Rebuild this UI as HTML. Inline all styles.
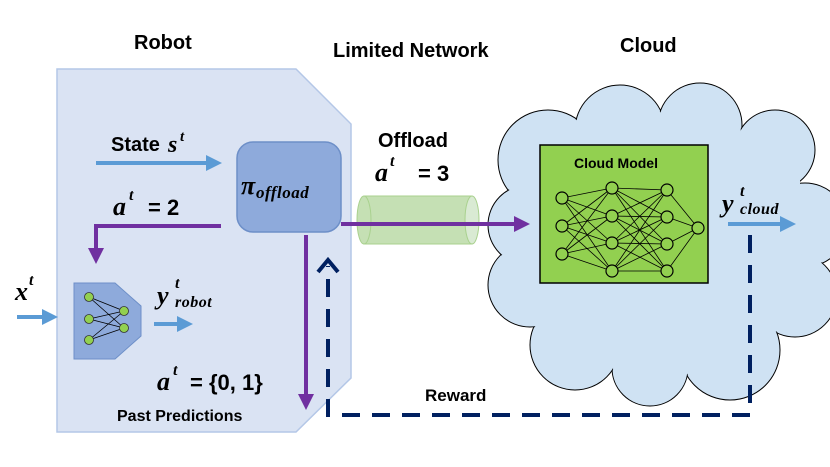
<!DOCTYPE html>
<html><head><meta charset="utf-8"><style>
body{margin:0;background:#fff;}
svg{display:block;font-family:"Liberation Sans",sans-serif;}
.b{font-weight:bold;}
.m{font-family:"Liberation Serif",serif;font-weight:bold;font-style:italic;}
</style></head><body>
<svg width="830" height="467" viewBox="0 0 830 467">
<defs>
<marker id="bl" markerWidth="4" markerHeight="4" refX="2" refY="2" orient="auto" markerUnits="strokeWidth"><path d="M0,0 L4,2 L0,4z" fill="#5b9bd5"/></marker>
<marker id="pu" markerWidth="4" markerHeight="4" refX="2" refY="2" orient="auto" markerUnits="strokeWidth"><path d="M0,0 L4,2 L0,4z" fill="#7030a0"/></marker>
</defs>
<polygon points="57,69 296,69 351,124 351,378 296,432 57,432" fill="#dae3f3" stroke="#b4c7e7" stroke-width="1.5"/>
<text x="134" y="49" class="b" font-size="20">Robot</text>
<text x="333" y="57" class="b" font-size="20">Limited Network</text>
<text x="620" y="52" class="b" font-size="20">Cloud</text>
<g fill="#cfe2f3" stroke="#000" stroke-width="1">
<circle cx="548" cy="160" r="50"/><circle cx="620" cy="130" r="45"/><circle cx="700" cy="125" r="42"/><circle cx="775" cy="150" r="40"/>
<circle cx="805" cy="225" r="42"/><circle cx="795" cy="295" r="42"/><circle cx="730" cy="350" r="50"/><circle cx="650" cy="368" r="38"/>
<circle cx="575" cy="345" r="45"/><circle cx="530" cy="285" r="42"/><circle cx="528" cy="225" r="40"/>
</g>
<g fill="#cfe2f3">
<circle cx="548" cy="160" r="49"/><circle cx="620" cy="130" r="44"/><circle cx="700" cy="125" r="41"/><circle cx="775" cy="150" r="39"/>
<circle cx="805" cy="225" r="41"/><circle cx="795" cy="295" r="41"/><circle cx="730" cy="350" r="49"/><circle cx="650" cy="368" r="37"/>
<circle cx="575" cy="345" r="44"/><circle cx="530" cy="285" r="41"/><circle cx="528" cy="225" r="39"/>
<rect x="545" y="140" width="225" height="215"/>
<rect x="760" y="170" width="40" height="140"/>
</g>
<rect x="540" y="145" width="168" height="138" fill="#92d050" stroke="#000" stroke-width="1.5"/>
<text x="574" y="168" class="b" font-size="14">Cloud Model</text>
<g stroke="#000" stroke-width="0.8">
<path d="M562,198L612,188M562,198L612,216M562,198L612,243M562,198L612,271M562,226L612,188M562,226L612,216M562,226L612,243M562,226L612,271M562,254L612,188M562,254L612,216M562,254L612,243M562,254L612,271"/>
<path d="M612,188L667,190M612,188L667,217M612,188L667,244M612,188L667,271M612,216L667,190M612,216L667,217M612,216L667,244M612,216L667,271M612,243L667,190M612,243L667,217M612,243L667,244M612,243L667,271M612,271L667,190M612,271L667,217M612,271L667,244M612,271L667,271"/>
<path d="M667,190L698,228M667,217L698,228M667,244L698,228M667,271L698,228"/>
</g>
<g fill="#92d050" stroke="#000" stroke-width="1.2">
<circle cx="562" cy="198" r="6"/><circle cx="562" cy="226" r="6"/><circle cx="562" cy="254" r="6"/>
<circle cx="612" cy="188" r="6"/><circle cx="612" cy="216" r="6"/><circle cx="612" cy="243" r="6"/><circle cx="612" cy="271" r="6"/>
<circle cx="667" cy="190" r="6"/><circle cx="667" cy="217" r="6"/><circle cx="667" cy="244" r="6"/><circle cx="667" cy="271" r="6"/>
<circle cx="698" cy="228" r="6"/>
</g>
<rect x="364" y="196" width="108" height="48" fill="#c5e0b4" stroke="#a9d18e"/>
<ellipse cx="364" cy="220" rx="7" ry="24" fill="#c5e0b4" stroke="#a9d18e"/>
<ellipse cx="472" cy="220" rx="7" ry="24" fill="#d9ead3" stroke="#a9d18e"/>
<text x="378" y="147" class="b" font-size="20">Offload</text>
<text x="375" y="181" class="m" font-size="26">a</text><text x="390" y="166" class="m" font-size="16">t</text>
<text x="418" y="181" class="b" font-size="22">= 3</text>
<rect x="237" y="142" width="104" height="90" rx="16" fill="#8eaadb" stroke="#6d8fc8" stroke-width="1.5"/>
<text x="241" y="194" class="m" font-size="26">π</text>
<text x="256" y="198" class="m" font-size="17" letter-spacing="0.5">offload</text>
<text x="111" y="151" class="b" font-size="20">State</text>
<text x="168" y="152" class="m" font-size="24">s</text><text x="180" y="141" class="m" font-size="15">t</text>
<line x1="96" y1="163" x2="214" y2="163" stroke="#5b9bd5" stroke-width="4" marker-end="url(#bl)"/>
<text x="113" y="215" class="m" font-size="26">a</text><text x="129" y="200" class="m" font-size="16">t</text>
<text x="148" y="215" class="b" font-size="22">= 2</text>
<polyline points="221,226 96,226 96,256" fill="none" stroke="#7030a0" stroke-width="4" marker-end="url(#pu)"/>
<polygon points="74,283 115,283 141,306 141,336 115,359 74,359" fill="#8eaadb" stroke="#6d8fc8"/>
<g stroke="#000" stroke-width="0.8"><path d="M89,297L124,311M89,297L124,328M89,319L124,311M89,319L124,328M89,340L124,311M89,340L124,328"/></g>
<g fill="#92d050" stroke="#333" stroke-width="0.8"><circle cx="89" cy="297" r="4.5"/><circle cx="89" cy="319" r="4.5"/><circle cx="89" cy="340" r="4.5"/><circle cx="124" cy="311" r="4.5"/><circle cx="124" cy="328" r="4.5"/></g>
<text x="15" y="300" class="m" font-size="26">x</text><text x="29" y="285" class="m" font-size="16">t</text>
<line x1="17" y1="317" x2="50" y2="317" stroke="#5b9bd5" stroke-width="4" marker-end="url(#bl)"/>
<text x="157" y="304" class="m" font-size="26">y</text>
<text x="175" y="288" class="m" font-size="16">t</text>
<text x="175" y="307" class="m" font-size="16" letter-spacing="0.5">robot</text>
<line x1="154" y1="324" x2="185" y2="324" stroke="#5b9bd5" stroke-width="4" marker-end="url(#bl)"/>
<text x="157" y="390" class="m" font-size="26">a</text><text x="173" y="375" class="m" font-size="16">t</text>
<text x="190" y="390" class="b" font-size="22">= {0, 1}</text>
<text x="117" y="421" class="b" font-size="16">Past Predictions</text>
<line x1="306" y1="235" x2="306" y2="402" stroke="#7030a0" stroke-width="4" marker-end="url(#pu)"/>
<line x1="341" y1="224" x2="522" y2="224" stroke="#7030a0" stroke-width="4" marker-end="url(#pu)"/>
<text x="722" y="212" class="m" font-size="26">y</text>
<text x="740" y="196" class="m" font-size="16">t</text>
<text x="740" y="214" class="m" font-size="16" letter-spacing="0.5">cloud</text>
<line x1="728" y1="224" x2="788" y2="224" stroke="#5b9bd5" stroke-width="4" marker-end="url(#bl)"/>
<polyline points="750,235 750,415 328,415 328,266" fill="none" stroke="#002060" stroke-width="4" stroke-dasharray="18,12"/>
<polyline points="318,272 328,260 338,272" fill="none" stroke="#002060" stroke-width="4"/>
<text x="425" y="401" class="b" font-size="17">Reward</text>
</svg>
</body></html>
